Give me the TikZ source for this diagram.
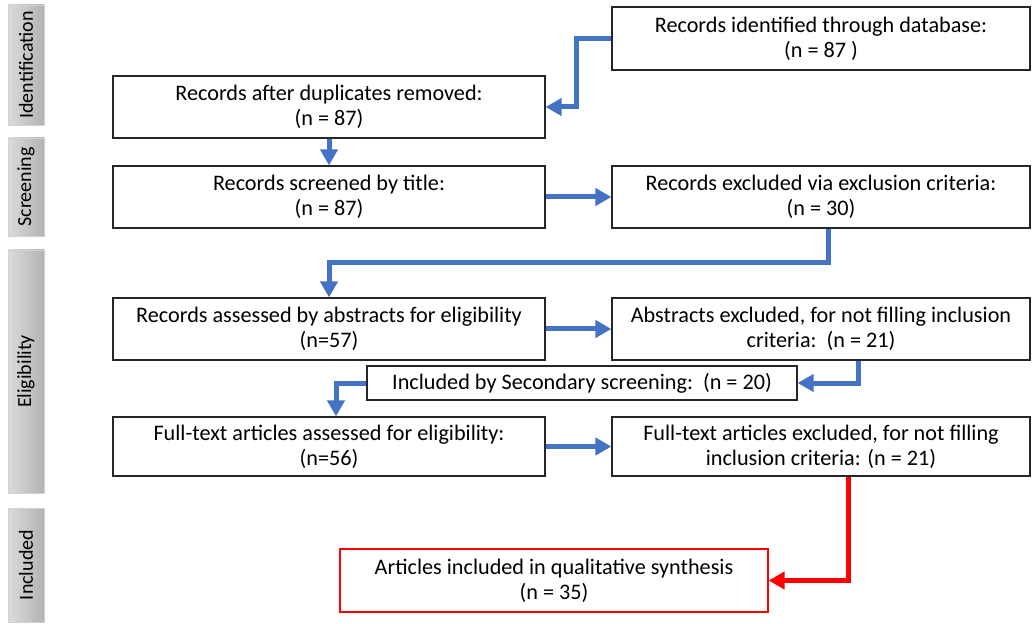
\documentclass[tikz,border=0pt]{standalone}
\usepackage{fontspec}
\setmainfont{Carlito}
\usetikzlibrary{arrows.meta,calc}
\definecolor{flowblue}{HTML}{4472C4}
\definecolor{flowred}{HTML}{FF0000}

\begin{document}
\begin{tikzpicture}[x=0.5pt,y=-0.5pt,font=\fontsize{11.1}{12.5}\selectfont]
\tikzstyle{b}=[draw=black!85,line width=0.6pt,align=center,inner sep=2pt]
\tikzstyle{side}=[rotate=90,left color=black!14,right color=black!30,draw=black!18,minimum height=18pt,inner sep=0pt,font=\fontsize{10}{11}\selectfont]
\tikzstyle{arr}=[flowblue,line width=2.5pt,-{Triangle[length=8pt,width=8.5pt]}]
\useasboundingbox (0,0) rectangle (1036,624);
\node[side,minimum width=60pt] (sid) at (26,65) {Identification};
\node[side,minimum width=49pt] (ssc) at (26,187) {Screening};
\node[side,minimum width=121.5pt] (sel) at (26,371.5) {Eligibility};
\node[side,minimum width=57pt] (sin) at (26,565) {Included};
\node[b,minimum width=209pt,minimum height=31.5pt] (ident) at (821,38.5) {Records identified through database:\\ (n = 87 )};
\node[b,minimum width=216pt,minimum height=31pt] (dup) at (329,107) {Records after duplicates removed:\\ (n = 87)};
\node[b,minimum width=216pt,minimum height=31pt] (scr) at (329,197) {Records screened by title:\\ (n = 87)};
\node[b,minimum width=209pt,minimum height=31pt] (excl) at (821,197) {Records excluded via exclusion criteria:\\ (n = 30)};
\node[b,minimum width=216pt,minimum height=31pt] (abs) at (329,329) {Records assessed by abstracts for eligibility\\ (n=57)};
\node[b,minimum width=209pt,minimum height=31pt] (absx) at (821,329) {Abstracts excluded, for not filling inclusion\\ criteria:\ \ (n = 21)};
\node[b,minimum width=215pt,minimum height=17pt] (sec) at (582,383) {Included by Secondary screening:\ \ (n = 20)};
\node[b,minimum width=216pt,minimum height=29.5pt] (full) at (329,446.5) {Full-text articles assessed for eligibility:\\ (n=56)};
\node[b,minimum width=209pt,minimum height=29.5pt] (fullx) at (821,446.5) {Full-text articles excluded, for not filling\\ inclusion criteria: (n = 21)};
\node[b,draw=flowred,minimum width=214pt,minimum height=31.5pt] (incl) at (554,580.5) {Articles included in qualitative synthesis\\ (n = 35)};
\draw[arr] (ident.west) -- ++(-35,0) |- (dup.east);
\draw[arr] (dup.south) -- (scr.north);
\draw[arr] (scr.east) -- (excl.west);
\draw[arr] ($(excl.south)+(7,0)$) -- ++(0,34) -| (abs.north);
\draw[arr] (abs.east) -- (absx.west);
\draw[arr] ($(absx.south)+(37,0)$) -- ++(0,20) |- (sec.east);
\draw[arr] (sec.west) -| ($(full.north)+(7,0)$);
\draw[arr] (full.east) -- (fullx.west);
\draw[arr,flowred] ($(fullx.south)+(27,0)$) |- (incl.east);
\end{tikzpicture}
\end{document}
